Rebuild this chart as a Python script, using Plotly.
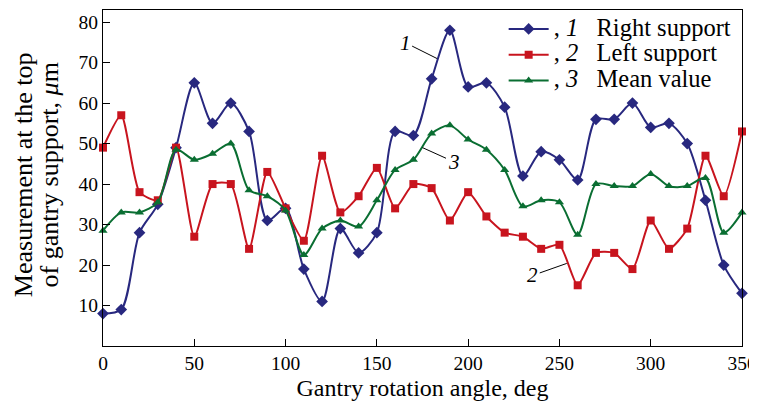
import plotly.graph_objects as go

angles = list(range(0, 360, 10))
right_support = [8, 9, 28, 35, 49, 65, 55, 60, 53, 31, 34, 19, 11, 29, 23, 28, 53, 52,
                 66, 78, 64, 65, 59, 42, 48, 46, 41, 56, 56, 60, 54, 55, 50, 36, 20, 13]
left_support = [49, 57, 38, 36, 49, 27, 40, 40, 24, 43, 34, 26, 47, 33, 37, 44, 34, 40,
                39, 31, 38, 32, 28, 27, 24, 25, 15, 23, 23, 19, 31, 24, 29, 47, 37, 53]
mean_value = [28.5, 33, 33, 35.5, 48.5, 46, 47.5, 50, 38.5, 37, 33.5, 22.5, 29, 31, 29.5, 36,
              43.5, 46, 52.5, 54.5, 51, 48.5, 43.5, 34.5, 36, 35.5, 27.5, 40, 39.5, 39.5,
              42.5, 39.5, 39.5, 41.5, 28, 33]
series_names = ["Right support", "Left support", "Mean value"]

FONT = "Liberation Serif, Times New Roman, serif"
BLUE = "#28287f"
RED = "#c8141e"
GREEN = "#0a6e32"


def leg(num, label):
    return f"<span style='font-size:24.5px'>, <i>{num}</i>   {label}</span>"


fig = go.Figure()
fig.add_trace(go.Scatter(x=angles, y=right_support, mode="lines+markers",
                         name=leg(1, series_names[0]), cliponaxis=False,
                         line=dict(color=BLUE, width=2, shape="spline", smoothing=0.8),
                         marker=dict(symbol="diamond", size=9, color=BLUE)))
fig.add_trace(go.Scatter(x=angles, y=left_support, mode="lines+markers",
                         name=leg(2, series_names[1]), cliponaxis=False,
                         line=dict(color=RED, width=2, shape="spline", smoothing=0.6),
                         marker=dict(symbol="square", size=8, color=RED)))
fig.add_trace(go.Scatter(x=angles, y=mean_value, mode="lines+markers",
                         name=leg(3, series_names[2]), cliponaxis=False,
                         line=dict(color=GREEN, width=2, shape="spline", smoothing=0.8),
                         marker=dict(symbol="triangle-up", size=8, color=GREEN)))

ann_font = dict(family=FONT, size=21, color="black")
annos = [
    dict(x=183, y=71, ax=-32, ay=-16, text="<i>1</i>"),
    dict(x=175, y=49, ax=31, ay=14, text="<i>3</i>"),
    dict(x=254, y=20.4, ax=-34, ay=12, text="<i>2</i>"),
]
for a in annos:
    fig.add_annotation(x=a["x"], y=a["y"], ax=a["ax"], ay=a["ay"], text=a["text"],
                       showarrow=True, arrowhead=0, arrowwidth=1, arrowcolor="black",
                       font=ann_font, xref="x", yref="y", axref="pixel", ayref="pixel")

# y-axis title (two lines) as a rotated annotation left of the tick labels
fig.add_annotation(xref="paper", yref="paper", x=-0.104, y=0.51, showarrow=False,
                   textangle=-90, xanchor="center", yanchor="middle",
                   font=dict(family=FONT, size=20, color="black"),
                   text="<span style='font-size:26px'>Measurement at the top</span><br>"
                        "<span style='font-size:26px'>of gantry support, <i>μ</i>m</span>")

# The page body has an 8px default margin, so the figure is offset to compensate.
fig.update_layout(
    width=757, height=393,
    margin=dict(l=95, r=23, t=2, b=55),
    paper_bgcolor="white", plot_bgcolor="white",
    font=dict(family=FONT, size=20, color="black"),
    showlegend=True,
    legend=dict(x=0.627, y=0.997, xanchor="left", yanchor="top",
                bgcolor="rgba(255,255,255,0)", font=dict(family=FONT, size=17.5),
                tracegroupgap=0, itemwidth=40),
    xaxis=dict(range=[0, 350], tickvals=[0, 50, 100, 150, 200, 250, 300, 350],
               ticks="inside", ticklen=7, tickcolor="black", showgrid=False,
               zeroline=False, showline=True, linecolor="black", linewidth=1, mirror=True,
               automargin=False, ticklabeloverflow="allow",
               title=dict(text="Gantry rotation angle, deg", standoff=6),
               tickfont=dict(size=19.5)),
    yaxis=dict(range=[0, 83], tickvals=[10, 20, 30, 40, 50, 60, 70, 80],
               ticks="inside", ticklen=7, tickcolor="black", showgrid=False,
               zeroline=False, showline=True, linecolor="black", linewidth=1, mirror=True,
               automargin=False, ticklabeloverflow="allow",
               tickfont=dict(size=19.5)),
)

fig.write_html(
    "out.html",
    post_script="document.documentElement.style.overflow='hidden';"
                "document.body.style.overflow='hidden';",
)
